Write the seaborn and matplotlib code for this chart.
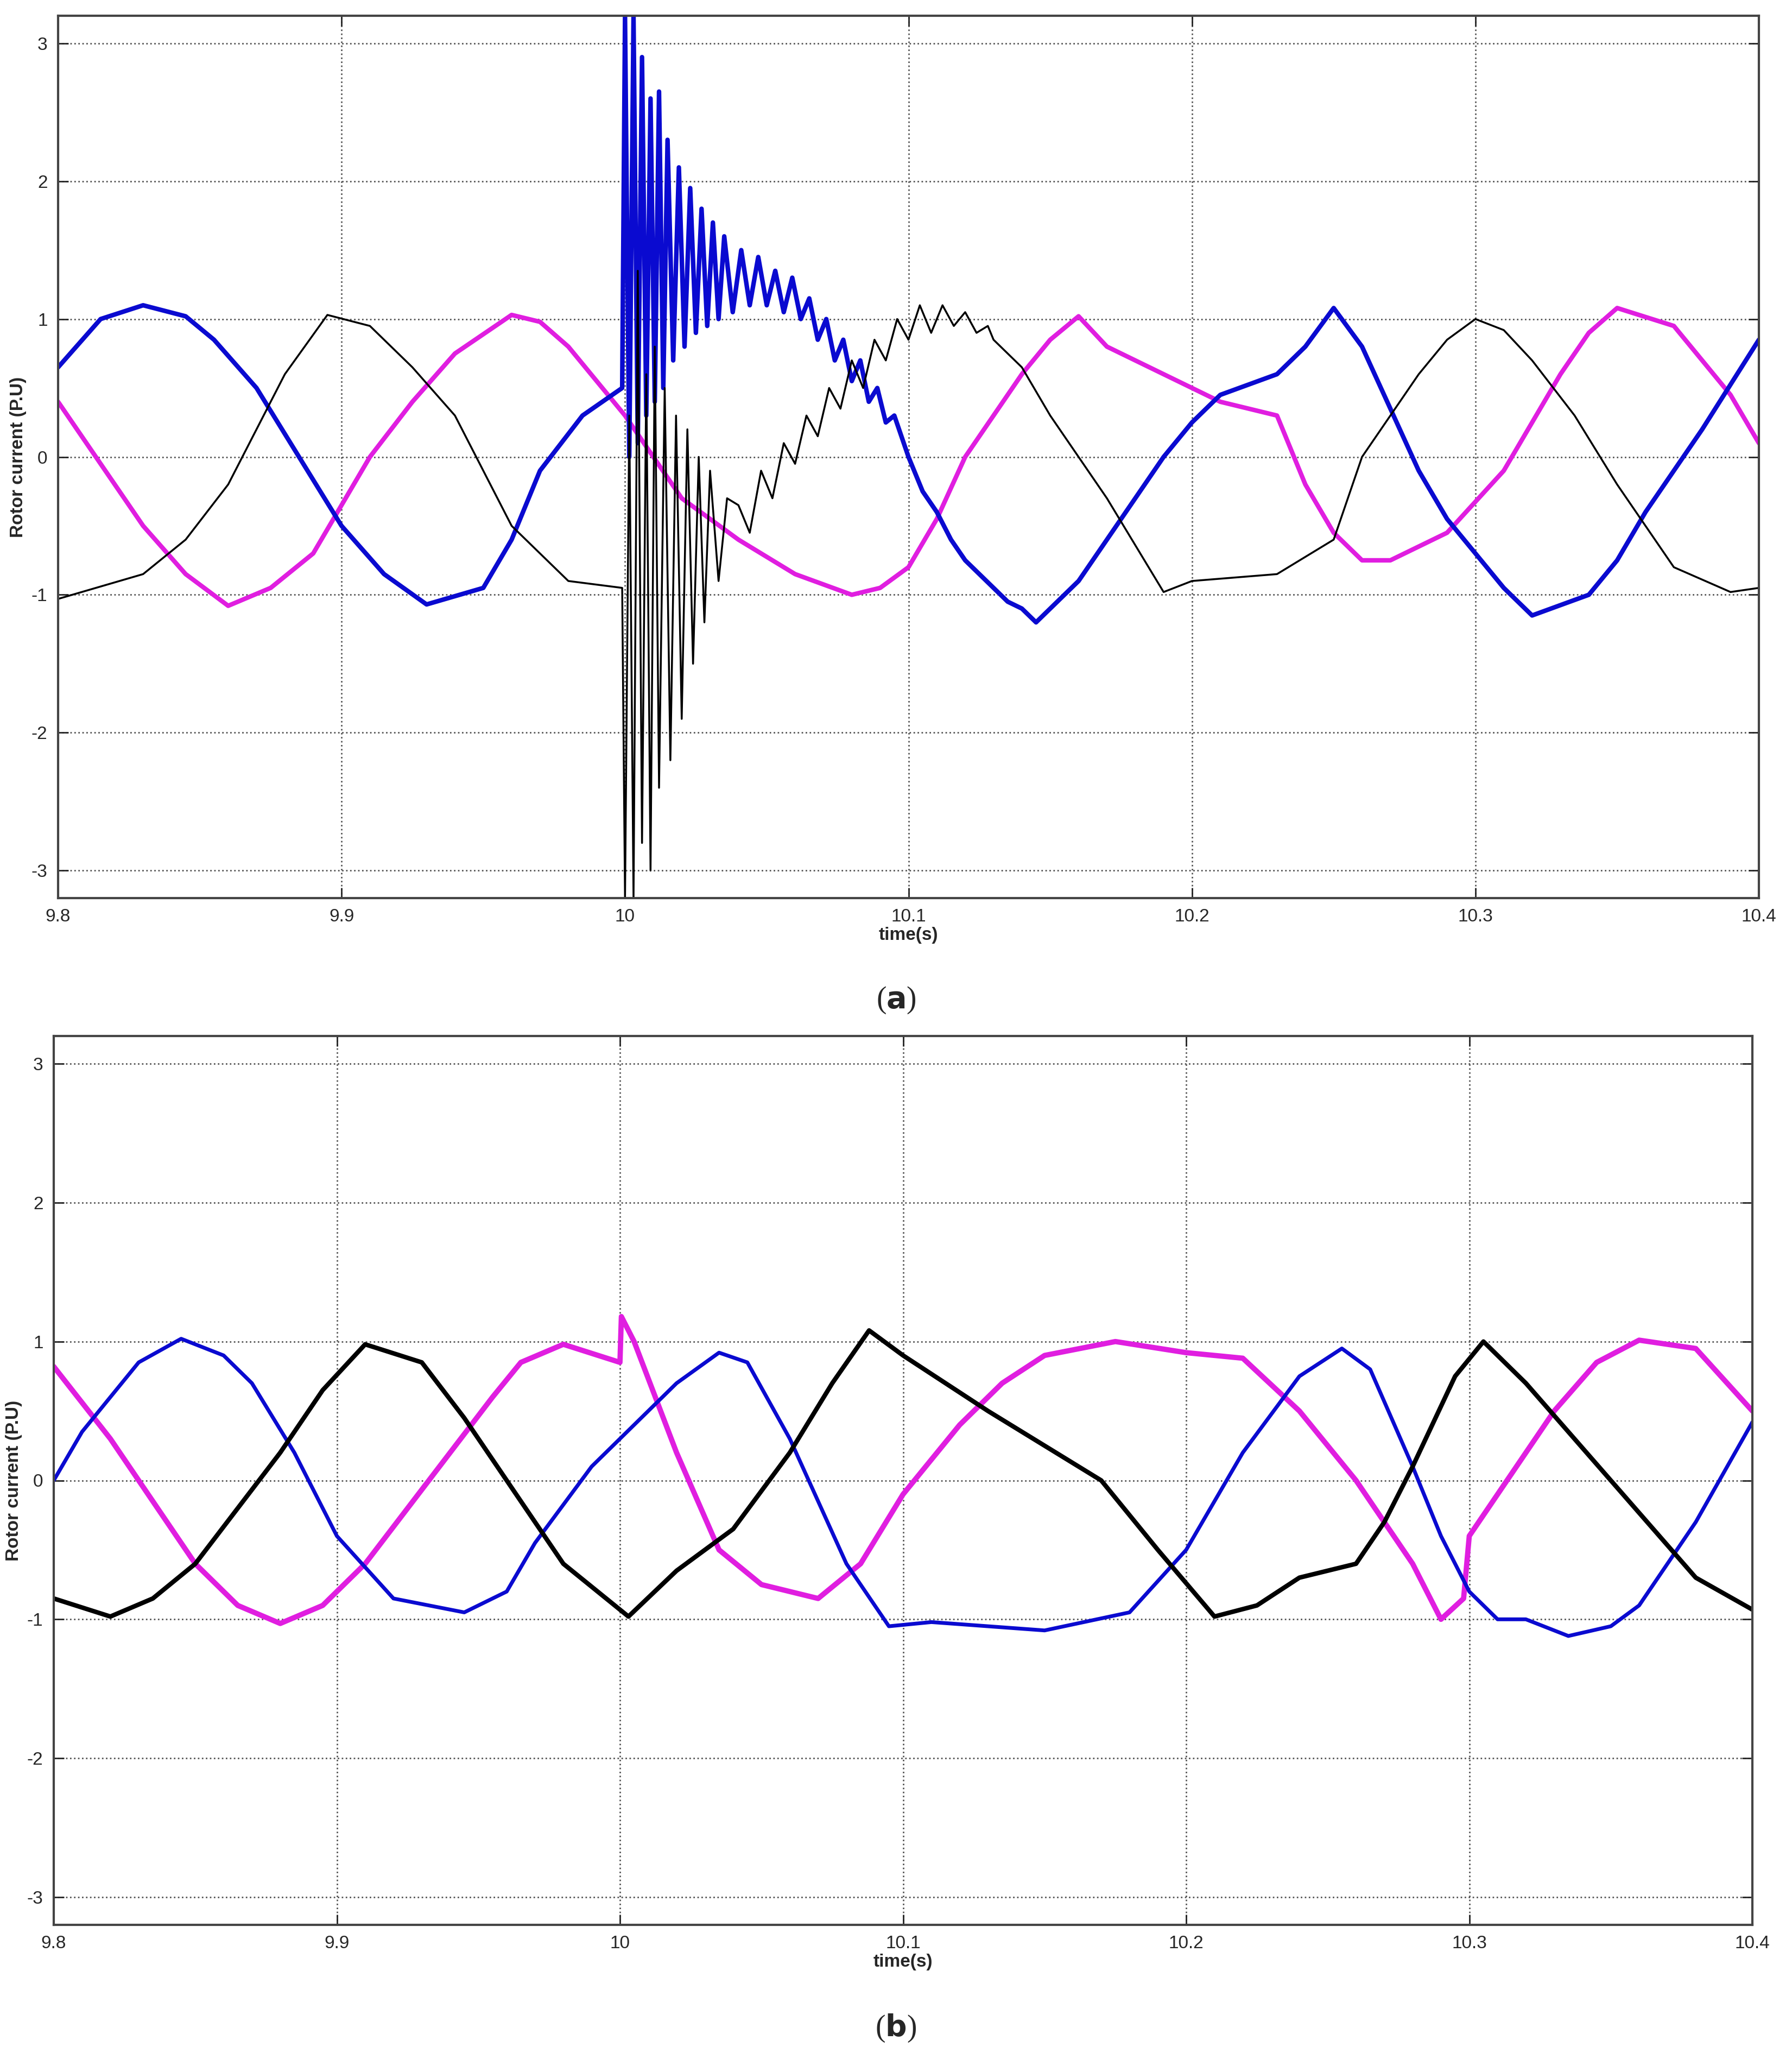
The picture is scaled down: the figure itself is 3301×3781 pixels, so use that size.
import numpy as np
import matplotlib.pyplot as plt
import seaborn as sns

# ---- panel (a) ----
a_blue_t = [9.8, 9.815, 9.83, 9.845, 9.855, 9.87, 9.885, 9.9, 9.915, 9.93, 9.95, 9.96, 9.97, 9.985, 9.999,
            10.0, 10.0015, 10.003, 10.0045, 10.006, 10.0075, 10.009, 10.0105, 10.012, 10.0135,
            10.015, 10.017, 10.019, 10.021, 10.023, 10.025, 10.027, 10.029, 10.031, 10.033,
            10.035, 10.038, 10.041, 10.044, 10.047, 10.05, 10.053, 10.056, 10.059, 10.062,
            10.065, 10.068, 10.071, 10.074, 10.077, 10.08, 10.083, 10.086, 10.089, 10.092,
            10.095, 10.1, 10.105, 10.11, 10.115, 10.12, 10.125, 10.13, 10.135, 10.14,
            10.145, 10.15, 10.16, 10.17, 10.18, 10.19, 10.2, 10.21, 10.23, 10.24, 10.25, 10.26, 10.27, 10.28,
            10.29, 10.3, 10.31, 10.32, 10.34, 10.35, 10.36, 10.38, 10.4]
a_blue_v = [0.65, 1.0, 1.1, 1.02, 0.85, 0.5, 0.0, -0.5, -0.85, -1.07, -0.95, -0.6, -0.1, 0.3, 0.5,
            3.2, 0.0, 3.2, 0.1, 2.9, 0.3, 2.6, 0.4, 2.65, 0.5,
            2.3, 0.7, 2.1, 0.8, 1.95, 0.9, 1.8, 0.95, 1.7, 1.0,
            1.6, 1.05, 1.5, 1.1, 1.45, 1.1, 1.35, 1.05, 1.3, 1.0,
            1.15, 0.85, 1.0, 0.7, 0.85, 0.55, 0.7, 0.4, 0.5, 0.25,
            0.3, 0.0, -0.25, -0.4, -0.6, -0.75, -0.85, -0.95, -1.05, -1.1,
            -1.2, -1.1, -0.9, -0.6, -0.3, 0.0, 0.25, 0.45, 0.6, 0.8, 1.08, 0.8, 0.35, -0.1,
            -0.45, -0.7, -0.95, -1.15, -1.0, -0.75, -0.4, 0.2, 0.85]

a_black_t = [9.8, 9.83, 9.845, 9.86, 9.87, 9.88, 9.895, 9.91, 9.925, 9.94, 9.96, 9.98, 9.999,
             10.0, 10.0015, 10.003, 10.0045, 10.006, 10.0075, 10.009, 10.0105, 10.012, 10.014,
             10.016, 10.018, 10.02, 10.022, 10.024, 10.026, 10.028, 10.03, 10.033, 10.036,
             10.04, 10.044, 10.048, 10.052, 10.056, 10.06, 10.064, 10.068, 10.072, 10.076,
             10.08, 10.084, 10.088, 10.092, 10.096, 10.1, 10.104, 10.108, 10.112, 10.116,
             10.12, 10.124, 10.128, 10.13, 10.14, 10.15, 10.16, 10.17, 10.19, 10.2, 10.23, 10.25,
             10.26, 10.27, 10.28, 10.29, 10.3, 10.31, 10.32, 10.335, 10.35, 10.37, 10.39, 10.4]
a_black_v = [-1.03, -0.85, -0.6, -0.2, 0.2, 0.6, 1.03, 0.95, 0.65, 0.3, -0.5, -0.9, -0.95,
             -3.2, 0.3, -3.2, 1.35, -2.8, 0.6, -3.0, 0.8, -2.4, 0.5,
             -2.2, 0.3, -1.9, 0.2, -1.5, 0.0, -1.2, -0.1, -0.9, -0.3,
             -0.35, -0.55, -0.1, -0.3, 0.1, -0.05, 0.3, 0.15, 0.5, 0.35,
             0.7, 0.5, 0.85, 0.7, 1.0, 0.85, 1.1, 0.9, 1.1, 0.95,
             1.05, 0.9, 0.95, 0.85, 0.65, 0.3, 0.0, -0.3, -0.98, -0.9, -0.85, -0.6,
             0.0, 0.3, 0.6, 0.85, 1.0, 0.92, 0.7, 0.3, -0.2, -0.8, -0.98, -0.95]

a_mag_t = [9.8, 9.815, 9.83, 9.845, 9.86, 9.875, 9.89, 9.91, 9.925, 9.94, 9.96, 9.97, 9.98, 10.0, 10.02,
           10.04, 10.06, 10.08, 10.09, 10.1, 10.11, 10.12, 10.13, 10.14, 10.15, 10.16, 10.17, 10.19, 10.21,
           10.23, 10.24, 10.25, 10.26, 10.27, 10.29, 10.31, 10.32, 10.33, 10.34, 10.35, 10.37,
           10.39, 10.4]
a_mag_v = [0.4, -0.05, -0.5, -0.85, -1.08, -0.95, -0.7, 0.0, 0.4, 0.75, 1.03, 0.98, 0.8, 0.3, -0.3,
           -0.6, -0.85, -1.0, -0.95, -0.8, -0.45, 0.0, 0.3, 0.6, 0.85, 1.02, 0.8, 0.6, 0.4,
           0.3, -0.2, -0.55, -0.75, -0.75, -0.55, -0.1, 0.25, 0.6, 0.9, 1.08, 0.95,
           0.45, 0.1]

# ---- panel (b) ----
b_blue_t = [9.8, 9.81, 9.82, 9.83, 9.845, 9.86, 9.87, 9.885, 9.9, 9.92, 9.945, 9.96, 9.97, 9.99, 10.0,
            10.02, 10.035, 10.045, 10.06, 10.07, 10.08, 10.095, 10.11, 10.13, 10.15, 10.18,
            10.2, 10.21, 10.22, 10.24, 10.255, 10.265, 10.28, 10.29, 10.3, 10.31, 10.32,
            10.335, 10.35, 10.36, 10.38, 10.4]
b_blue_v = [0.0, 0.35, 0.6, 0.85, 1.02, 0.9, 0.7, 0.2, -0.4, -0.85, -0.95, -0.8, -0.45, 0.1, 0.3,
            0.7, 0.92, 0.85, 0.3, -0.15, -0.6, -1.05, -1.02, -1.05, -1.08, -0.95,
            -0.5, -0.15, 0.2, 0.75, 0.95, 0.8, 0.1, -0.4, -0.8, -1.0, -1.0,
            -1.12, -1.05, -0.9, -0.3, 0.42]

b_black_t = [9.8, 9.82, 9.835, 9.85, 9.865, 9.88, 9.895, 9.91, 9.93, 9.945, 9.96, 9.98, 10.003, 10.02,
             10.04, 10.06, 10.075, 10.088, 10.1, 10.13, 10.17, 10.19, 10.21, 10.225,
             10.24, 10.26, 10.27, 10.28, 10.295, 10.305, 10.32, 10.35, 10.38, 10.4]
b_black_v = [-0.85, -0.98, -0.85, -0.6, -0.2, 0.2, 0.65, 0.98, 0.85, 0.45, 0.0, -0.6, -0.98, -0.65,
             -0.35, 0.2, 0.7, 1.08, 0.9, 0.5, 0.0, -0.5, -0.98, -0.9,
             -0.7, -0.6, -0.3, 0.1, 0.75, 1.0, 0.7, 0.0, -0.7, -0.93]

b_mag_t = [9.8, 9.82, 9.835, 9.85, 9.865, 9.88, 9.895, 9.91, 9.94, 9.955, 9.965, 9.98, 10.0, 10.0005,
           10.005, 10.02, 10.035, 10.05, 10.07, 10.085, 10.1, 10.12, 10.135, 10.15, 10.175,
           10.2, 10.22, 10.24, 10.26, 10.28, 10.29, 10.298, 10.3, 10.31, 10.33,
           10.345, 10.36, 10.38, 10.4]
b_mag_v = [0.82, 0.3, -0.15, -0.6, -0.9, -1.03, -0.9, -0.6, 0.2, 0.6, 0.85, 0.98, 0.85, 1.18,
           1.0, 0.2, -0.5, -0.75, -0.85, -0.6, -0.1, 0.4, 0.7, 0.9, 1.0,
           0.92, 0.88, 0.5, 0.0, -0.6, -1.0, -0.85, -0.4, -0.1, 0.5,
           0.85, 1.01, 0.95, 0.5]

x_ticks = [9.8, 9.9, 10.0, 10.1, 10.2, 10.3, 10.4]
x_labels = ['9.8', '9.9', '10', '10.1', '10.2', '10.3', '10.4']
y_ticks = [-3, -2, -1, 0, 1, 2, 3]

BLUE = '#0a0ad0'
MAG = '#e01ee0'

sns.set_style('white')
plt.rcParams['font.family'] = ['Liberation Sans', 'DejaVu Sans']
plt.rcParams['axes.unicode_minus'] = False

fig = plt.figure(figsize=(33.01, 37.81), dpi=100)
W, H = 3301, 3781
ax_a = fig.add_axes([107 / W, 1 - 1654 / H, (3240 - 107) / W, (1654 - 29) / H])
ax_b = fig.add_axes([99 / W, 1 - 3545 / H, (3228 - 99) / W, (3545 - 1908) / H])

panels = [
    (ax_a, [(a_mag_t, a_mag_v, MAG, 6), (a_blue_t, a_blue_v, BLUE, 6), (a_black_t, a_black_v, 'black', 2.5)], 'a', 1842),
    (ax_b, [(b_mag_t, b_mag_v, MAG, 7), (b_blue_t, b_blue_v, BLUE, 5), (b_black_t, b_black_v, 'black', 6)], 'b', 3735),
]

for ax, lines, tag, tag_y in panels:
    for t, v, c, lw in lines:
        sns.lineplot(x=t, y=v, ax=ax, color=c, linewidth=lw, sort=False, estimator=None)
    ax.set_xlim(9.8, 10.4)
    ax.set_ylim(-3.2, 3.2)
    ax.set_xticks(x_ticks)
    ax.set_xticklabels(x_labels)
    ax.set_yticks(y_ticks)
    ax.grid(True, linestyle=':', color='#555555', linewidth=2)
    ax.tick_params(labelsize=24, direction='in', length=14, width=2, pad=14,
                   top=True, right=True, bottom=True, left=True)
    for s in ax.spines.values():
        s.set_color('#444444')
        s.set_linewidth(3)
    ax.set_xlabel('time(s)', fontsize=24, fontweight='bold', labelpad=2)
    ax.set_ylabel('Rotor current (P.U)', fontsize=24, fontweight='bold', labelpad=6)
    fig.text(0.5, 1 - tag_y / H, '(' + r'$\mathbf{' + tag + '}$' + ')', ha='center', va='center',
             fontsize=40, family='Liberation Serif')

fig.savefig('out.png', dpi=100, facecolor='white')
